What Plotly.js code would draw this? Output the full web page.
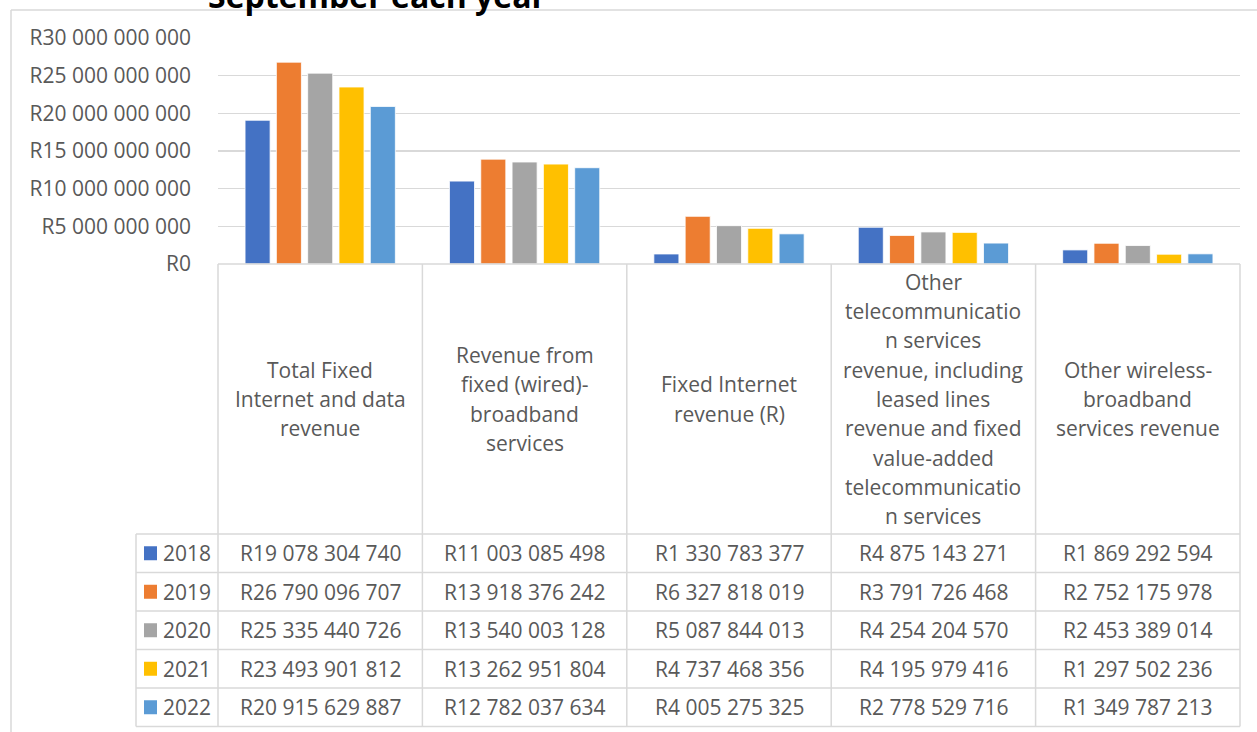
<!DOCTYPE html>
<html>
<head>
<meta charset="utf-8">
<script src="https://cdn.plot.ly/plotly-3.0.1.min.js"></script>
<style>html,body{margin:0;padding:0;background:#fff;}#chart{width:1257px;height:732px;}</style>
</head>
<body>
<div id="chart"></div>
<script>
// ---- data ----
const titleText = 'September each year';
const categories = [
  'Total Fixed<br>Internet and data<br>revenue',
  'Revenue from<br>fixed (wired)-<br>broadband<br>services',
  'Fixed Internet<br>revenue (R)',
  'Other<br>telecommunicatio<br>n services<br>revenue, including<br>leased lines<br>revenue and fixed<br>value-added<br>telecommunicatio<br>n services',
  'Other wireless-<br>broadband<br>services revenue'
];
const years = ['2018', '2019', '2020', '2021', '2022'];
const v2018 = [19078304740, 11003085498, 1330783377, 4875143271, 1869292594];
const v2019 = [26790096707, 13918376242, 6327818019, 3791726468, 2752175978];
const v2020 = [25335440726, 13540003128, 5087844013, 4254204570, 2453389014];
const v2021 = [23493901812, 13262951804, 4737468356, 4195979416, 1297502236];
const v2022 = [20915629887, 12782037634, 4005275325, 2778529716, 1349787213];
const seriesValues = [v2018, v2019, v2020, v2021, v2022];
const colors = ['#4472C4', '#ED7D31', '#A5A5A5', '#FFC000', '#5B9BD5'];

// ---- layout geometry (pixels) ----
const W = 1257, Hh = 732;
const L = 218, R = 17, T = 38, B = 468;
const PW = W - L - R, PH = Hh - T - B;
const X = px => (px - L) / PW;
const Y = py => (T + PH - py) / PH;
const colW = PW / categories.length;
const gray = '#d9d9d9';
const txt = '#595959';
const FONT = 'Open Sans, Noto Sans, sans-serif';
const FS = 21;

const fmt = n => 'R' + String(n).replace(/\B(?=(\d{3})+(?!\d))/g, ' ');

const catKeys = categories.map((c, i) => 'c' + i);

const traces = years.map((y, k) => ({
  type: 'bar',
  name: y,
  x: catKeys,
  y: seriesValues[k],
  marker: {color: colors[k], line: {color: '#ffffff', width: 0.8}},
  hoverinfo: 'skip'
}));

const shapes = [];
const annotations = [];
const line = (x0, y0, x1, y1, c, w) => shapes.push({
  type: 'line', xref: 'paper', yref: 'paper',
  x0: X(x0), y0: Y(y0), x1: X(x1), y1: Y(y1),
  line: {color: c || gray, width: w || 1.5}
});

// outer chart border
line(11, 10, 11, 760);
line(11, 10, 1300, 10);

// table geometry
const headTop = T + PH;           // 264
const rowTops = [534, 572.5, 611, 649.5, 688, 726.5];
const legLeft = 136;
line(L, headTop, L + PW, headTop);
rowTops.forEach(r => line(legLeft, r, L + PW, r));
line(legLeft, rowTops[0], legLeft, rowTops[rowTops.length - 1]);
for (let i = 0; i <= categories.length; i++) {
  const xx = L + i * colW;
  line(xx, headTop, xx, rowTops[rowTops.length - 1]);
}

// category header text, one annotation per line
const lineGap = 29.3;
const headMid = (headTop + rowTops[0]) / 2;
categories.forEach((c, i) => {
  const parts = c.split('<br>');
  const cx = L + (i + 0.5) * colW;
  parts.forEach((p, j) => {
    const cy = headMid + (j - (parts.length - 1) / 2) * lineGap;
    annotations.push({
      xref: 'paper', yref: 'paper', x: X(cx), y: Y(cy),
      xanchor: 'center', yanchor: 'middle', showarrow: false,
      text: p, font: {family: FONT, size: FS, color: txt}
    });
  });
});

// data rows
years.forEach((y, k) => {
  const cy = (rowTops[k] + rowTops[k + 1]) / 2;
  shapes.push({
    type: 'rect', xref: 'paper', yref: 'paper',
    x0: X(144), x1: X(157), y0: Y(cy - 7), y1: Y(cy + 7),
    fillcolor: colors[k], line: {width: 0}
  });
  annotations.push({
    xref: 'paper', yref: 'paper', x: X(161), y: Y(cy),
    xanchor: 'left', yanchor: 'middle', showarrow: false,
    text: y, font: {family: FONT, size: FS, color: txt}
  });
  seriesValues[k].forEach((v, i) => {
    annotations.push({
      xref: 'paper', yref: 'paper', x: X(L + (i + 0.5) * colW), y: Y(cy),
      xanchor: 'center', yanchor: 'middle', showarrow: false,
      text: fmt(v), font: {family: FONT, size: FS, color: txt}
    });
  });
});

// title (partly cut off at top, as in reference)
annotations.push({
  xref: 'paper', yref: 'paper', x: X(377), y: Y(-5),
  xanchor: 'center', yanchor: 'middle', showarrow: false,
  text: '<b>' + titleText + '</b>',
  font: {family: FONT, size: 32, color: '#000000'}
});

const layout = {
  width: W, height: Hh,
  margin: {l: L, r: R, t: T, b: B, pad: 0},
  paper_bgcolor: '#ffffff', plot_bgcolor: '#ffffff',
  separators: '. ',
  showlegend: false,
  barmode: 'group',
  bargap: 0.234,
  bargroupgap: 0.2,
  font: {family: FONT, size: FS, color: txt},
  xaxis: {
    type: 'category', showticklabels: false, showgrid: false,
    zeroline: false, showline: false, ticks: '', fixedrange: true
  },
  yaxis: {
    range: [0, 30000000000], dtick: 5000000000, tick0: 0,
    tickformat: ',d', tickprefix: 'R',
    showgrid: true, gridcolor: gray, gridwidth: 1.5,
    zeroline: false, showline: false, ticks: '',
    ticklabelstandoff: 26,
    tickfont: {family: FONT, size: FS, color: txt},
    fixedrange: true
  },
  shapes: shapes,
  annotations: annotations
};

Plotly.newPlot('chart', traces, layout, {displayModeBar: false, staticPlot: true});
</script>
</body>
</html>
